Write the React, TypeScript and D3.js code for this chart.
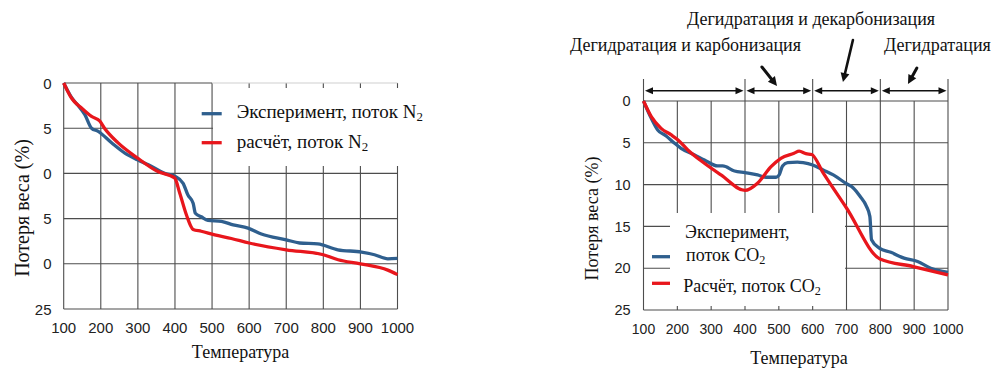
import React from 'react';
import * as d3 from 'd3';

// ---------- data ----------
const temperatures = [100, 200, 300, 400, 500, 600, 700, 800, 900, 1000];
const yTickValues = [0, 5, 10, 15, 20, 25];
const leftYTickLabels = ['0', '5', '0', '5', '0', '25'];
const rightYTickLabels = ['0', '5', '10', '15', '20', '25'];
const stageBounds = [100, 400, 600, 800, 1000];

const n2Experiment: [number, number][] = [
  [100, 0], [110, 0.8], [121, 1.6], [139, 2.5], [157, 3.5], [175, 5.0], [193, 5.35],
  [229, 6.6], [265, 7.75], [299, 8.5], [336, 9.2], [372, 10.0], [399, 10.3], [422, 11.1],
  [435, 12.4], [449, 13.3], [455, 14.4], [471, 14.8], [489, 15.2], [525, 15.3], [557, 15.7],
  [597, 16.05], [633, 16.7], [700, 17.35], [736, 17.7], [785, 17.8], [839, 18.45],
  [903, 18.7], [938, 19.0], [974, 19.45], [1000, 19.4],
];
const n2Calc: [number, number][] = [
  [100, 0], [110, 0.85], [121, 1.66], [148, 2.77], [175, 3.7], [197, 4.2], [210, 5.0],
  [246, 6.6], [299, 8.3], [354, 9.8], [399, 10.5], [413, 12.2], [431, 14.6], [449, 16.2],
  [471, 16.4], [507, 16.8], [552, 17.2], [600, 17.7], [700, 18.45], [800, 19.0],
  [840, 19.55], [900, 20.0], [974, 20.7], [1000, 21.2],
];
const co2Experiment: [number, number][] = [
  [100, 0], [123, 2.07], [142, 3.47], [167, 4.18], [192, 5.06], [211, 5.66], [251, 6.45],
  [280, 7.05], [319, 7.77], [334, 7.77], [369, 8.37], [400, 8.57], [437, 8.84], [462, 9.12],
  [492, 9.12], [501, 8.84], [511, 7.77], [526, 7.37], [555, 7.3], [572, 7.37], [600, 7.65],
  [631, 8.25], [661, 8.84], [700, 9.9], [720, 10.4], [740, 11.4], [759, 12.6], [769, 13.8],
  [774, 16.6], [797, 17.6], [831, 18.1], [870, 18.8], [910, 19.2], [949, 20.0], [1000, 20.5],
];
const co2Calc: [number, number][] = [
  [100, 0], [123, 1.87], [152, 3.27], [182, 4.06], [202, 4.66], [231, 5.86], [280, 7.45],
  [329, 8.84], [400, 10.7], [437, 9.84], [477, 7.85], [506, 6.85], [545, 6.25], [560, 6.0],
  [580, 6.3], [597, 6.4], [631, 8.6], [700, 12.8], [799, 18.9], [897, 19.8], [1000, 20.8],
];
// pointer arrows (data coordinates: [T1, v1, T2, v2, width])
const pointerArrows: [number, number, number, number, number][] = [
  [450, -4.07, 494.6, -1.8, 3],
  [719, -7.3, 689.5, -2.27, 2.6],
  [908, -3.95, 881.7, -2.03, 3],
];
const stageLabels = [
  { text: 'Дегидратация и декарбонизация', x: 687, y: 25 },
  { text: 'Дегидратация и карбонизация', x: 570, y: 51 },
  { text: 'Дегидратация', x: 884, y: 51 },
];

// ---------- style ----------
const BLUE = '#2f5f8e';
const RED = '#e8161c';
const GRID = '#4d4d4d';
const SERIF = '"Liberation Serif", "Times New Roman", serif';
const SANS = '"Liberation Sans", Arial, sans-serif';

const xL = d3.scaleLinear().domain([100, 1000]).range([63.7, 397.5]);
const yL = d3.scaleLinear().domain([0, 25]).range([83, 309]);
const xR = d3.scaleLinear().domain([100, 1000]).range([643.5, 948]);
const yR = d3.scaleLinear().domain([0, 25]).range([101, 310]);

function lineGen(x: d3.ScaleLinear<number, number>, y: d3.ScaleLinear<number, number>) {
  return d3
    .line<[number, number]>()
    .x((d) => x(d[0]))
    .y((d) => y(d[1]))
    .curve(d3.curveMonotoneX);
}

function Sub({ children }: { children: string }) {
  return (
    <tspan fontSize="0.68em" dy="3">
      {children}
    </tspan>
  );
}

function arrowHead(x1: number, y1: number, x2: number, y2: number, len: number, half: number) {
  const a = Math.atan2(y2 - y1, x2 - x1);
  const bx = x2 - len * Math.cos(a);
  const by = y2 - len * Math.sin(a);
  const px = -Math.sin(a) * half;
  const py = Math.cos(a) * half;
  return `M${x2},${y2}L${bx + px},${by + py}L${bx - px},${by - py}Z`;
}

export default function App() {
  const lL = lineGen(xL, yL);
  const lR = lineGen(xR, yR);
  const arrowY = 90.7;

  return (
    <svg
      width={994}
      height={369}
      style={{ position: 'absolute', left: 0, top: 0, background: '#fff' }}
    >
      <rect x={0} y={0} width={994} height={369} fill="#fff" />

      {/* ===== LEFT PANEL ===== */}
      <g>
        {temperatures.map((t) => (
          <line key={'lv' + t} x1={xL(t)} x2={xL(t)} y1={yL(0)} y2={yL(25)} stroke={GRID} strokeWidth={1.1} />
        ))}
        {yTickValues.map((v) =>
          v === 0 ? (
            <g key={'lh' + v}>
              <line x1={xL(100)} x2={xL(500)} y1={yL(v)} y2={yL(v)} stroke={GRID} strokeWidth={1.1} />
              <line x1={xL(500)} x2={xL(1000)} y1={yL(v)} y2={yL(v)} stroke="#cfcfcf" strokeWidth={1} />
            </g>
          ) : (
            <line key={'lh' + v} x1={xL(100)} x2={xL(1000)} y1={yL(v)} y2={yL(v)} stroke={GRID} strokeWidth={1.1} />
          )
        )}
        {/* legend background */}
        <rect x={213} y={88} width={192} height={78} fill="#fff" />

        <path d={lL(n2Experiment) || ''} fill="none" stroke={BLUE} strokeWidth={3.3} strokeLinejoin="round" />
        <path d={lL(n2Calc) || ''} fill="none" stroke={RED} strokeWidth={3.3} strokeLinejoin="round" />

        {temperatures.map((t) => (
          <text key={'lxt' + t} x={xL(t)} y={333} textAnchor="middle" fontFamily={SANS} fontSize={15} fill="#222">
            {t}
          </text>
        ))}
        {yTickValues.map((v, i) => (
          <text key={'lyt' + v} x={51.5} y={yL(v) + 5.5} textAnchor="end" fontFamily={SANS} fontSize={15} fill="#222">
            {leftYTickLabels[i]}
          </text>
        ))}
        <text
          transform={`translate(28.5,${(yL(0) + yL(25)) / 2 + 12}) rotate(-90)`}
          textAnchor="middle"
          fontFamily={SERIF}
          fontSize={20}
          fill="#111"
        >
          Потеря веса (%)
        </text>
        <text x={(xL(100) + xL(1000)) / 2 + 10} y={358} textAnchor="middle" fontFamily={SERIF} fontSize={18} fill="#111">
          Температура
        </text>

        {/* legend */}
        <line x1={201.7} x2={221.7} y1={113.7} y2={113.7} stroke={BLUE} strokeWidth={3.3} />
        <line x1={201.7} x2={221.7} y1={142.7} y2={142.7} stroke={RED} strokeWidth={3.3} />
        <text x={236.7} y={117.5} fontFamily={SERIF} fontSize={19} fill="#111">
          Эксперимент, поток N<Sub>2</Sub>
        </text>
        <text x={236.7} y={148} fontFamily={SERIF} fontSize={19} fill="#111">
          расчёт, поток N<Sub>2</Sub>
        </text>
      </g>

      {/* ===== RIGHT PANEL ===== */}
      <g>
        {temperatures.map((t) => (
          <line
            key={'rv' + t}
            x1={xR(t)}
            x2={xR(t)}
            y1={stageBounds.includes(t) ? 79 : yR(0)}
            y2={yR(25)}
            stroke={GRID}
            strokeWidth={1.1}
          />
        ))}
        {yTickValues.map((v) => (
          <line key={'rh' + v} x1={xR(100)} x2={xR(1000)} y1={yR(v)} y2={yR(v)} stroke={GRID} strokeWidth={1.1} />
        ))}
        {/* legend background */}
        <rect x={670} y={213} width={175} height={93} fill="#fff" />

        {/* stage double arrows */}
        {stageBounds.slice(0, -1).map((t, i) => {
          const a = xR(t) + 1.5;
          const b = xR(stageBounds[i + 1]) - 1.5;
          return (
            <g key={'st' + t}>
              <line x1={a + 4} x2={b - 4} y1={arrowY} y2={arrowY} stroke="#111" strokeWidth={1.5} />
              <path d={arrowHead(b - 10, arrowY, b, arrowY, 8, 3.5)} fill="#111" />
              <path d={arrowHead(a + 10, arrowY, a, arrowY, 8, 3.5)} fill="#111" />
            </g>
          );
        })}

        {/* pointer arrows */}
        {pointerArrows.map(([t1, v1, t2, v2, w], i) => {
          const x1 = xR(t1), y1 = yR(v1), x2 = xR(t2), y2 = yR(v2);
          const a = Math.atan2(y2 - y1, x2 - x1);
          const ex = x2 - 7 * Math.cos(a), ey = y2 - 7 * Math.sin(a);
          return (
            <g key={'pa' + i}>
              <line x1={x1} y1={y1} x2={ex} y2={ey} stroke="#111" strokeWidth={w} strokeLinecap="round" />
              <path d={arrowHead(x1, y1, x2, y2, 9, 4.5)} fill="#111" />
            </g>
          );
        })}

        {stageLabels.map((s) => (
          <text key={s.text + s.x} x={s.x} y={s.y} fontFamily={SERIF} fontSize={18} fill="#111">
            {s.text}
          </text>
        ))}

        <path d={lR(co2Experiment) || ''} fill="none" stroke={BLUE} strokeWidth={3.3} strokeLinejoin="round" />
        <path d={lR(co2Calc) || ''} fill="none" stroke={RED} strokeWidth={3.3} strokeLinejoin="round" />

        {temperatures.map((t) => (
          <text key={'rxt' + t} x={xR(t)} y={334} textAnchor="middle" fontFamily={SANS} fontSize={14} fill="#222">
            {t}
          </text>
        ))}
        {yTickValues.map((v, i) => (
          <text key={'ryt' + v} x={630.7} y={yR(v) + 5.2} textAnchor="end" fontFamily={SANS} fontSize={14.5} fill="#222">
            {rightYTickLabels[i]}
          </text>
        ))}
        <text
          transform={`translate(598,218.5) rotate(-90)`}
          textAnchor="middle"
          fontFamily={SERIF}
          fontSize={18}
          fill="#111"
        >
          Потеря веса (%)
        </text>
        <text x={799} y={364} textAnchor="middle" fontFamily={SERIF} fontSize={18} fill="#111">
          Температура
        </text>

        {/* legend */}
        <line x1={652} x2={670} y1={256.7} y2={256.7} stroke={BLUE} strokeWidth={3.3} />
        <line x1={652} x2={670} y1={283.3} y2={283.3} stroke={RED} strokeWidth={3.3} />
        <text x={685} y={238} fontFamily={SERIF} fontSize={18} fill="#111">
          Эксперимент,
        </text>
        <text x={686} y={261} fontFamily={SERIF} fontSize={18} fill="#111">
          поток CO<Sub>2</Sub>
        </text>
        <text x={683.3} y={292} fontFamily={SERIF} fontSize={18} fill="#111">
          Расчёт, поток CO<Sub>2</Sub>
        </text>
      </g>
    </svg>
  );
}
